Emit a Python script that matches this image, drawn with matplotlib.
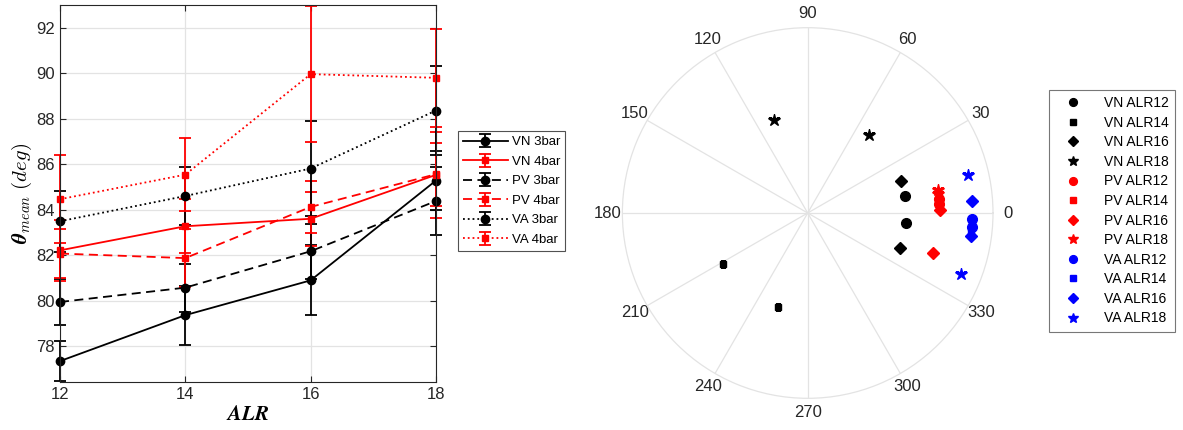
import matplotlib.pyplot as plt
import numpy as np
from matplotlib.lines import Line2D

plt.rcParams['font.family'] = ['Liberation Sans', 'DejaVu Sans']
plt.rcParams['mathtext.fontset'] = 'cm'

# mean angle vs aspect ratio
alr = [12, 14, 16, 18]
vn_3bar = [77.34, 79.36, 80.89, 85.28]
vn_3bar_err = [0.88, 1.30, 1.54, 1.30]
vn_4bar = [82.21, 83.27, 83.60, 85.53]
vn_4bar_err = [1.35, 1.18, 1.19, 1.90]
pv_3bar = [79.94, 80.57, 82.17, 84.38]
pv_3bar_err = [1.00, 1.06, 1.20, 1.50]
pv_4bar = [82.07, 81.87, 84.12, 85.56]
pv_4bar_err = [1.07, 1.27, 1.15, 1.39]
va_3bar = [83.49, 84.60, 85.81, 88.36]
va_3bar_err = [1.33, 1.28, 2.09, 1.95]
va_4bar = [84.46, 85.54, 89.96, 89.80]
va_4bar_err = [1.94, 1.59, 3.00, 2.15]

# polar scatter: angle in degrees, two points per case
vn_r, pv_r, va_r = 3.0, 4.0, 5.0
vn_theta = {'ALR12': [9.8, -5.6], 'ALR14': [211, 252.5],
            'ALR16': [19, -20.6], 'ALR18': [110, 51.6]}
pv_theta = {'ALR12': [6.0, 4.0], 'ALR14': [7.0, 5.0],
            'ALR16': [1.3, -17.6], 'ALR18': [10.0, 8.5]}
va_theta = {'ALR12': [-2.0, -5.0], 'ALR14': [-3.5, -6.5],
            'ALR16': [4.2, -8.0], 'ALR18': [13.4, -21.7]}
theta_ticks = list(range(0, 360, 30))

fig = plt.figure(figsize=(11.83, 4.30), dpi=100)
ax = fig.add_axes([0.0507, 0.1116, 0.3178, 0.8767])

series = [
    ('VN 3bar', vn_3bar, vn_3bar_err, 'k', '-', 'o'),
    ('VN 4bar', vn_4bar, vn_4bar_err, 'r', '-', 's'),
    ('PV 3bar', pv_3bar, pv_3bar_err, 'k', (0, (5, 3)), 'o'),
    ('PV 4bar', pv_4bar, pv_4bar_err, 'r', (0, (5, 3)), 's'),
    ('VA 3bar', va_3bar, va_3bar_err, 'k', ':', 'o'),
    ('VA 4bar', va_4bar, va_4bar_err, 'r', ':', 's'),
]
for name, y, e, c, ls, m in series:
    ms = 6 if m == 'o' else 4.5
    cont = ax.errorbar(alr, y, yerr=e, color=c, ls=ls, marker=m, ms=ms,
                       lw=1.3, elinewidth=1.3, capsize=4, capthick=1.3,
                       label=name)
    for art in cont.get_children():
        art.set_clip_on(False)

ax.set_xlim(12, 18)
ax.set_ylim(76.42, 93.0)
ax.set_xticks([12, 14, 16, 18])
ax.set_yticks([78, 80, 82, 84, 86, 88, 90, 92])
ax.grid(True, color='#e3e3e3', lw=0.9)
ax.set_axisbelow(True)
ax.tick_params(direction='in', labelsize=12, colors='#262626', length=4,
               top=True, right=True)
for s in ax.spines.values():
    s.set_color('#262626')
    s.set_linewidth(0.8)
ax.set_xlabel(r'$\boldsymbol{ALR}$', fontsize=15, labelpad=2)
ax.set_ylabel(r'$\boldsymbol{\theta}_{mean}\ (deg)$', fontsize=15, labelpad=2)

leg = ax.legend(loc='upper left', bbox_to_anchor=(1.058, 0.666), fontsize=9.5,
                frameon=True, fancybox=False, edgecolor='#262626',
                handlelength=3.4, borderpad=0.4, labelspacing=0.55,
                handletextpad=0.3, borderaxespad=0)
leg.get_frame().set_linewidth(0.8)

# polar plot
pax = fig.add_axes([0.5261, 0.0737, 0.3133, 0.8619], projection='polar')
marks = {'ALR12': ('o', 7), 'ALR14': ('s', 5), 'ALR16': ('D', 6), 'ALR18': ('*', 9)}
handles = []
for grp, theta, r, c in [('VN', vn_theta, vn_r, 'k'),
                         ('PV', pv_theta, pv_r, 'r'),
                         ('VA', va_theta, va_r, 'b')]:
    for key, (m, ms) in marks.items():
        t = np.deg2rad(theta[key])
        pax.plot(t, [r] * len(t), ls='none', marker=m, ms=ms, color=c)
        handles.append(Line2D([], [], ls='none', marker=m, ms=ms * 0.8,
                              color=c, label=f'{grp} {key}'))

pax.set_ylim(0, 5.62)
pax.set_yticks([])
pax.set_thetagrids(theta_ticks, labels=[str(t) for t in theta_ticks])
pax.xaxis.grid(True, color='#e3e3e3', lw=0.9)
pax.spines['polar'].set_color('#e3e3e3')
pax.spines['polar'].set_linewidth(0.9)
pax.tick_params(axis='x', labelsize=12, colors='#262626', pad=0)

leg2 = fig.legend(handles=handles, loc='upper left',
                  bbox_to_anchor=(1049 / 1183, 1 - 90 / 430), fontsize=10,
                  frameon=True, fancybox=False, edgecolor='#555555',
                  handlelength=2.6, borderpad=0.45, labelspacing=0.4,
                  handletextpad=0.9, borderaxespad=0)
leg2.get_frame().set_linewidth(0.8)

fig.savefig('out.png', dpi=100)
